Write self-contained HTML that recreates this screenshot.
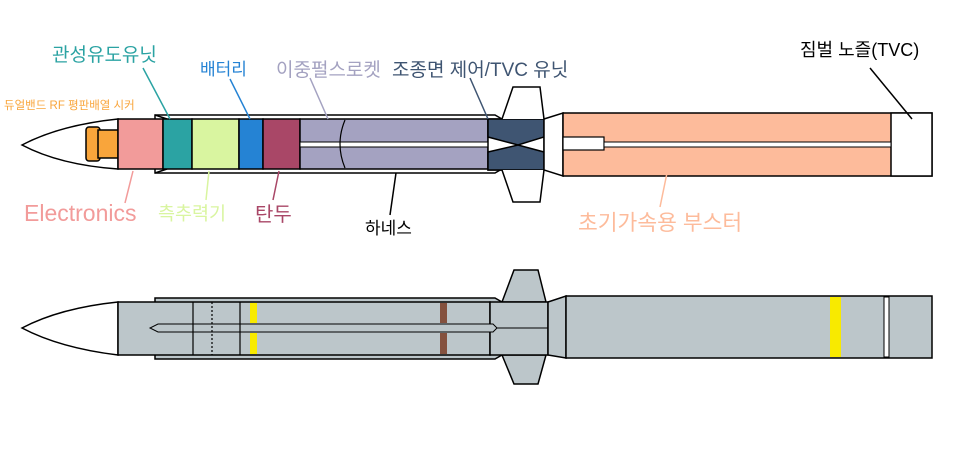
<!DOCTYPE html>
<html><head><meta charset="utf-8"><style>
html,body{margin:0;padding:0;background:#fff;width:960px;height:467px;overflow:hidden}
text{font-family:"Liberation Sans","Noto Sans CJK KR",sans-serif}
</style></head><body>
<svg width="960" height="467" viewBox="0 0 960 467" xmlns="http://www.w3.org/2000/svg">
<!-- TOP MISSILE -->
<g stroke="#000" stroke-width="1.5">
<path d="M155,115 L495,115 L502,119 L502,169 L495,173 L155,173 Z" fill="#fff"/>
<path d="M118,119 Q60,125 22,145 Q60,165 118,169 Z" fill="#fff"/>
<path d="M155,115 L167,119 M155,173 L167,169" fill="none"/>
<rect x="86" y="127" width="14" height="34" rx="3" fill="#f9a53b"/>
<rect x="98" y="130" width="20" height="28" fill="#f9a53b"/>
<rect x="118" y="119" width="45" height="50" fill="#f29b9a"/>
<rect x="163" y="119" width="29" height="50" fill="#2ba3a3"/>
<rect x="192" y="119" width="47" height="50" fill="#d9f5a0"/>
<rect x="239" y="119" width="24" height="50" fill="#2583d4"/>
<rect x="263" y="119" width="37" height="50" fill="#a94767"/>
<rect x="300" y="119" width="188" height="50" fill="#a4a2c1"/>
<rect x="300" y="142" width="188" height="5" fill="#fff" stroke-width="1"/>
<path d="M345,120 Q335,144 345,168" fill="none" stroke-width="1.2"/>
<path d="M488,119 L544,119 L544,170 L488,170 Z" fill="#fff"/>
<path d="M488,119 L544,119 L544,137 L518,145 L488,137 Z" fill="#3f5572"/>
<path d="M488,170 L544,170 L544,152 L518,145 L488,152 Z" fill="#3f5572"/>
<path d="M502,119 L513,87 L540,87 L544,119" fill="#fff"/>
<path d="M502,170 L513,202 L540,202 L544,170" fill="#fff"/>
<path d="M544,119 L563,113 L563,176 L544,170 Z" fill="#fff"/>
<rect x="563" y="113" width="369" height="63" fill="#fdbb9b"/>
<rect x="891" y="113" width="41" height="63" fill="#fff"/>
<rect x="563" y="137" width="41" height="13" fill="#fff" stroke-width="1.2"/>
<rect x="604" y="142" width="287" height="5" fill="#fff" stroke-width="1"/>
</g>
<!-- leaders -->
<g stroke-width="1.5" fill="none">
<line x1="143" y1="68" x2="170" y2="119" stroke="#2ba3a3"/>
<line x1="230" y1="79" x2="250" y2="119" stroke="#2583d4"/>
<line x1="310" y1="78" x2="328" y2="119" stroke="#a4a2c1"/>
<line x1="470" y1="78" x2="488" y2="119" stroke="#3f5572"/>
<line x1="133" y1="171" x2="125" y2="203" stroke="#f29b9a"/>
<line x1="209" y1="171" x2="206" y2="200" stroke="#d9f5a0"/>
<line x1="279" y1="171" x2="273" y2="200" stroke="#a94767"/>
<line x1="396" y1="173" x2="390" y2="215" stroke="#000"/>
<line x1="667" y1="173" x2="660" y2="207" stroke="#fdbb9b"/>
<line x1="870" y1="68" x2="912" y2="119" stroke="#000"/>
</g>
<text x="52" y="61" font-size="19" fill="#2ba3a3">관성유도유닛</text>
<text x="200" y="75" font-size="17" fill="#2583d4">배터리</text>
<text x="276" y="76" font-size="19" fill="#a4a2c1">이중펄스로켓</text>
<text x="392" y="76" font-size="19" fill="#3f5572">조종면 제어/TVC 유닛</text>
<text x="800" y="56" font-size="18" fill="#000">짐벌 노즐(TVC)</text>
<text x="4" y="109" font-size="11.5" fill="#f9a53b">듀얼밴드 RF 평판배열 시커</text>
<text x="24" y="221" font-size="23" fill="#f29b9a">Electronics</text>
<text x="158" y="220" font-size="18.5" fill="#d9f5a0">측추력기</text>
<text x="255" y="221" font-size="20" fill="#a94767">탄두</text>
<text x="365" y="234" font-size="17" fill="#000">하네스</text>
<text x="578" y="230" font-size="21.5" fill="#fdbb9b">초기가속용 부스터</text>
<!-- BOTTOM MISSILE -->
<g stroke="#000" stroke-width="1.5" fill="#bcc6ca">
<path d="M155,298 L495,298 L502,302 L502,355 L495,359 L155,359 Z"/>
<path d="M118,302 Q60,308 22,328 Q60,348 118,355 Z" fill="#fff"/>
<rect x="118" y="302" width="372" height="53"/>
<path d="M502,302 L514,270 L538,270 L546,302 Z"/>
<path d="M502,355 L514,384 L538,384 L546,355 Z"/>
<rect x="490" y="302" width="58" height="53"/>
<path d="M548,302 L566,296 L566,358 L548,355 Z"/>
<rect x="566" y="296" width="366" height="62"/>
<path d="M158,324 L493,324 L497,328 L493,332 L158,332 L150,328 Z" stroke-width="1"/>
<line x1="497" y1="328" x2="548" y2="328" stroke-width="1"/>
<line x1="193" y1="302" x2="193" y2="355" stroke-width="1.2"/>
<line x1="212" y1="302" x2="212" y2="355" stroke-width="1.2" stroke-dasharray="2,2"/>
<line x1="240" y1="302" x2="240" y2="355" stroke-width="1.2"/>
</g>
<rect x="250" y="303" width="7" height="20" fill="#f8ea00"/>
<rect x="250" y="333" width="7" height="21" fill="#f8ea00"/>
<rect x="440" y="303" width="7" height="20" fill="#84513e"/>
<rect x="440" y="333" width="7" height="21" fill="#84513e"/>
<rect x="830" y="297" width="11" height="60" fill="#f8ea00"/>
<rect x="884" y="297" width="5" height="60" fill="#fff" stroke="#000" stroke-width="1"/>
</svg>
</body></html>
